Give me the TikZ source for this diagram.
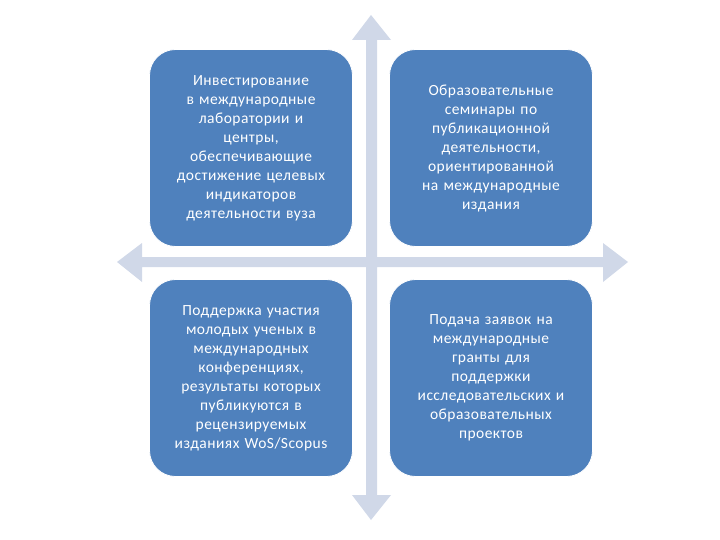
\documentclass[tikz,border=0pt]{standalone}
\usepackage{fontspec}
\setmainfont{Carlito}[LetterSpace=3]
\definecolor{boxblue}{HTML}{4F81BD}
\definecolor{crossc}{HTML}{D0D8E8}
\begin{document}
\begin{tikzpicture}[x=1pt,y=-1pt,
  quad/.style={fill=boxblue,draw=white,line width=0.8pt,rounded corners=26pt,minimum width=203pt,minimum height=197pt,
    text=white,align=center,text width=195pt,font=\fontsize{15.5}{19}\selectfont,inner sep=0pt},
  crossarm/.style={fill=crossc,draw=none}]
\useasboundingbox (0,0) rectangle (720,540);
\fill[crossc] (366,40) -- (352,40) -- (371,15) -- (391,40) -- (377,40) -- (377,257) -- (603,257) -- (603,243) -- (628,262) -- (603,282) -- (603,267)
 -- (377,267) -- (377,495) -- (391,495) -- (371,520) -- (352,495) -- (366,495) -- (366,267) -- (142,267) -- (142,282) -- (117,262) -- (142,243) -- (142,257) -- (366,257) -- cycle;
\coordinate (c) at (371,262);
\node[quad] (tl) at (251,148) {Инвестирование\\в международные\\лаборатории и\\центры,\\обеспечивающие\\достижение целевых\\индикаторов\\деятельности вуза};
\node[quad] (tr) at (491,148) {Образовательные\\семинары по\\публикационной\\деятельности,\\ориентированной\\на международные\\издания};
\node[quad] (bl) at (251,378) {Поддержка участия\\молодых ученых в\\международных\\конференциях,\\результаты которых\\публикуются в\\рецензируемых\\изданиях WoS/Scopus};
\node[quad] (br) at (491,378) {Подача заявок на\\международные\\гранты для\\поддержки\\исследовательских и\\образовательных\\проектов};
\end{tikzpicture}
\end{document}
